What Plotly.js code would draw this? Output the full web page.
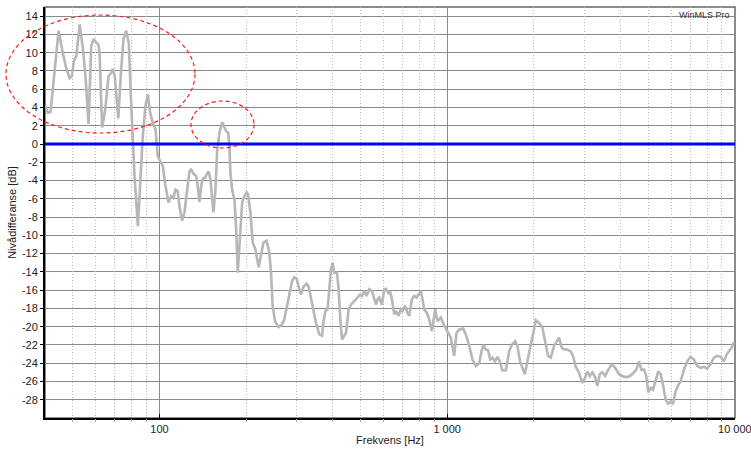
<!DOCTYPE html>
<html>
<head>
<meta charset="utf-8">
<script src="https://cdn.plot.ly/plotly-3.0.1.min.js"></script>
<style>
  html, body { margin: 0; padding: 0; background: #ffffff; }
  #chart { width: 751px; height: 449px; }
</style>
</head>
<body>
<div id="chart"></div>
<script>
// Level difference between two measurements, per frequency
const frequencyHz = [
  40, 41, 41.8, 43.2, 44.6, 46.1, 47.4, 48.7, 49.6, 50.4,
  51.4, 52.8, 54.2, 55.3, 56.7, 57.9, 59.0, 60.3, 61.3, 61.9,
  63.2, 64.8, 66.5, 68.0, 68.8, 69.9, 71.9, 73.6, 75.0, 76.6,
  78.2, 79.7, 81.9, 84.1, 86.4, 87.5, 89.4, 91.1, 92.8, 94.8,
  96.9, 98.6, 100.6, 102.7, 104.9, 107.5, 109.8, 111.8, 113.6, 115.7,
  117.3, 119.9, 122.1, 124.4, 127.1, 128.9, 131.5, 134.1, 135.8, 137.7,
  139.6, 141.4, 144.1, 146.0, 148.3, 150.4, 154.0, 156.5, 158.6, 161.6,
  165.1, 168.2, 170.5, 173.2, 175.0, 176.4, 178.8, 182.2, 184.7, 187.1,
  190.7, 193.8, 197.3, 201.0, 203.2, 207.0, 210.9, 215.4, 221.2, 225.4,
  229.7, 235.8, 240.9, 244.2, 247.4, 252.2, 259.5, 266.7, 271.6, 277.5,
  282.7, 288.9, 294.3, 299.7, 304.6, 310.5, 317.0, 324.7, 329.9, 336.3,
  342.5, 350.0, 359.4, 367.2, 371.0, 377.0, 384.0, 389.3, 394.6, 399.6,
  405.1, 414.0, 419.4, 425.2, 430.9, 438.9, 444.9, 454.2, 463.0, 475.4,
  488.1, 497.6, 505.6, 515.0, 524.6, 536.1, 547.7, 557.9, 565.6, 572.9,
  580.7, 593.4, 604.4, 612.7, 624.0, 632.4, 642.7, 654.6, 663.6, 677.5,
  690.6, 699.5, 713.0, 728.1, 738.1, 754.1, 768.1, 782.4, 799.5, 810.4,
  820.8, 832.0, 850.2, 866.0, 885.0, 908.5, 925.4, 950.9, 976.3, 1002,
  1030, 1041, 1058, 1077, 1101, 1137, 1161, 1193, 1224, 1258,
  1292, 1316, 1337, 1363, 1388, 1411, 1437, 1464, 1495, 1524,
  1556, 1599, 1642, 1678, 1722, 1754, 1792, 1861, 1900, 1937,
  1978, 2032, 2086, 2142, 2189, 2242, 2291, 2352, 2448, 2502,
  2548, 2616, 2688, 2738, 2798, 2873, 2950, 3015, 3071, 3130,
  3196, 3266, 3327, 3391, 3462, 3538, 3604, 3733, 3832, 3957,
  4118, 4262, 4400, 4543, 4642, 4728, 4831, 4920, 5000, 5097,
  5191, 5304, 5415, 5521, 5623, 5746, 5866, 5980, 6091, 6225,
  6355, 6479, 6651, 6829, 7017, 7204, 7397, 7601, 7805, 8013,
  8234, 8454, 8680, 8919, 9158, 9358, 9532, 9739, 9920
];

const levelDifferenceDb = [
  4.2, 3.4, 3.5, 8.2, 12.4, 10.0, 8.3, 7.2, 7.45, 9.1,
  9.6, 13.1, 10.4, 7.45, 2.2, 10.7, 11.5, 11.1, 10.9, 10.0,
  1.8, 3.8, 7.45, 7.8, 8.25, 7.45, 2.8, 8.2, 11.5, 12.4,
  11.1, 4.5, -3.5, -9.0, -1.3, 0.9, 4.2, 5.45, 3.4, 2.3,
  1.6, -1.3, -1.9, -2.4, -4.6, -6.4, -5.7, -5.9, -5.0, -5.15,
  -6.8, -8.4, -7.5, -5.3, -3.0, -2.8, -3.3, -3.5, -4.6, -6.35,
  -4.6, -3.8, -3.7, -3.3, -3.0, -3.9, -7.5, -5.0, -0.9, 1.25,
  2.4, 1.8, 1.4, 1.25, -0.2, -3.1, -5.0, -6.1, -9.3, -14.1,
  -9.3, -6.4, -5.7, -5.3, -5.5, -7.5, -10.8, -11.5, -13.5, -11.9,
  -10.8, -10.6, -11.9, -14.1, -17.75, -19.4, -20.05, -19.75, -19.2, -17.75,
  -16.65, -15.0, -14.6, -14.75, -15.6, -16.5, -15.6, -15.3, -15.6, -16.8,
  -18.1, -19.6, -20.85, -21.0, -19.6, -18.3, -18.1, -15.9, -13.7, -13.0,
  -14.1, -14.1, -15.9, -19.2, -21.4, -21.0, -20.7, -18.1, -17.6, -17.2,
  -16.8, -16.5, -16.65, -16.1, -16.65, -15.9, -16.1, -17.0, -17.6, -17.0,
  -16.8, -17.6, -15.9, -15.85, -16.3, -16.1, -17.0, -18.65, -18.3, -18.8,
  -18.1, -18.3, -17.7, -18.5, -18.8, -17.0, -16.65, -16.8, -16.3, -16.1,
  -17.0, -18.1, -18.5, -19.2, -20.5, -18.1, -19.4, -19.0, -19.9, -20.5,
  -21.2, -22.1, -23.2, -20.7, -20.3, -20.2, -20.85, -22.1, -23.6, -24.3,
  -24.0, -22.7, -22.0, -22.5, -22.6, -23.6, -23.4, -23.8, -23.3, -23.8,
  -24.8, -24.8, -22.7, -22.0, -21.6, -22.1, -23.8, -25.2, -23.6, -22.5,
  -21.2, -19.3, -19.6, -20.1, -21.6, -23.2, -23.4, -22.1, -21.2, -22.3,
  -22.5, -22.5, -22.7, -23.2, -24.4, -25.05, -26.15, -25.6, -24.9, -25.4,
  -25.0, -25.5, -26.5, -25.2, -25.0, -25.4, -24.9, -24.1, -24.5, -25.2,
  -25.5, -25.5, -25.2, -24.7, -23.8, -24.7, -24.7, -25.4, -27.2, -26.7,
  -26.9, -25.8, -24.9, -25.2, -26.3, -28.0, -28.45, -28.2, -28.5, -27.05,
  -26.4, -26.0, -24.7, -23.8, -23.3, -23.6, -24.3, -24.5, -24.4, -24.6,
  -24.1, -23.4, -23.2, -23.3, -23.8, -23.05, -22.7, -22.3, -21.7
];

// Axis ticks
const xTickValues = [100, 1000, 10000];
const xTickLabels = ['100', '1 000', '10 000'];
const xMinorTickValues = [50, 60, 70, 80, 90, 200, 300, 400, 500, 600, 700, 800, 900,
                          2000, 3000, 4000, 5000, 6000, 7000, 8000, 9000];
const yTickValues = [14, 12, 10, 8, 6, 4, 2, 0, -2, -4, -6, -8, -10, -12, -14,
                     -16, -18, -20, -22, -24, -26, -28];
const yTickLabels = ['14', '12', '10', '8', '6', '4', '2', '0', '-2', '-4', '-6', '-8', '-10', '-12', '-14',
                     '-16', '-18', '-20', '-22', '-24', '-26', '-28'];

// the small extra at the top end keeps the 10 000 tick inside the range
const xRange = [Math.log10(40), 4.0004];
const yRange = [-30, 15];

const FONT = 'Liberation Sans, Arial, Helvetica, sans-serif';

const traces = [
  {
    type: 'scatter',
    mode: 'lines',
    x: frequencyHz,
    y: levelDifferenceDb,
    line: { color: '#b7b7b7', width: 2.6 },
    hoverinfo: 'x+y',
    showlegend: false
  },
  {
    // carries the minor frequency grid
    type: 'scatter',
    mode: 'lines',
    x: [],
    y: [],
    xaxis: 'x2',
    showlegend: false,
    hoverinfo: 'skip'
  }
];

const ellipseStyle = { color: '#ff1a1a', width: 1.2, dash: '4px,3px' };

const layout = {
  width: 751,
  height: 449,
  margin: { l: 45, r: 16, t: 7, b: 31, pad: 0 },
  paper_bgcolor: '#ffffff',
  plot_bgcolor: '#ffffff',
  font: { family: FONT, size: 11, color: '#222222' },
  showlegend: false,
  xaxis: {
    type: 'log',
    range: xRange,
    tickvals: xTickValues,
    ticktext: xTickLabels,
    ticklabeloverflow: 'allow',
    ticks: 'inside',
    ticklen: 4,
    tickcolor: '#000000',
    tickfont: { family: FONT, size: 11, color: '#222222' },
    showgrid: true,
    gridcolor: '#8a8a8a',
    gridwidth: 1,
    showline: true,
    linecolor: '#000000',
    linewidth: 2,
    zeroline: false,
    title: { text: 'Frekvens [Hz]', font: { family: FONT, size: 11, color: '#222222' }, standoff: 2 }
  },
  xaxis2: {
    type: 'log',
    overlaying: 'x',
    anchor: 'y',
    side: 'bottom',
    range: xRange,
    tickvals: xMinorTickValues,
    showticklabels: false,
    ticks: 'outside',
    ticklen: 3,
    tickcolor: '#b0b0b0',
    showgrid: true,
    gridcolor: '#bdbdbd',
    gridwidth: 1,
    griddash: '1px,2px',
    showline: false,
    zeroline: false
  },
  yaxis: {
    range: yRange,
    tickvals: yTickValues,
    ticktext: yTickLabels,
    ticks: 'outside',
    ticklen: 3,
    tickcolor: '#000000',
    tickfont: { family: FONT, size: 11, color: '#222222' },
    showgrid: true,
    gridcolor: '#8a8a8a',
    gridwidth: 1,
    showline: true,
    linecolor: '#000000',
    linewidth: 2,
    zeroline: false,
    title: { text: 'Nivådifferanse [dB]', font: { family: FONT, size: 11, color: '#222222' }, standoff: 3 }
  },
  shapes: [
    // plot frame
    { type: 'rect', xref: 'paper', yref: 'paper', x0: 0, x1: 1, y0: 0, y1: 1,
      line: { color: '#666666', width: 1.5 }, layer: 'below' },
    // 0 dB reference
    { type: 'line', xref: 'paper', x0: 0, x1: 1, yref: 'y', y0: 0, y1: 0,
      line: { color: '#0000ff', width: 3 }, layer: 'above' },
    // highlighted regions
    { type: 'circle', xref: 'paper', yref: 'paper', x0: -0.0565, x1: 0.2174, y0: 0.6934, y1: 0.9805,
      line: ellipseStyle, layer: 'above' },
    { type: 'circle', xref: 'paper', yref: 'paper', x0: 0.2116, x1: 0.3029, y0: 0.6569, y1: 0.7713,
      line: ellipseStyle, layer: 'above' }
  ],
  annotations: [
    { text: 'WinMLS Pro', xref: 'paper', yref: 'paper', x: 1, y: 1, xanchor: 'right', yanchor: 'top',
      xshift: -3, yshift: -1, showarrow: false,
      font: { family: FONT, size: 9, color: '#333333' } }
  ]
};

Plotly.newPlot('chart', traces, layout, { displayModeBar: false, staticPlot: true });
</script>
</body>
</html>
